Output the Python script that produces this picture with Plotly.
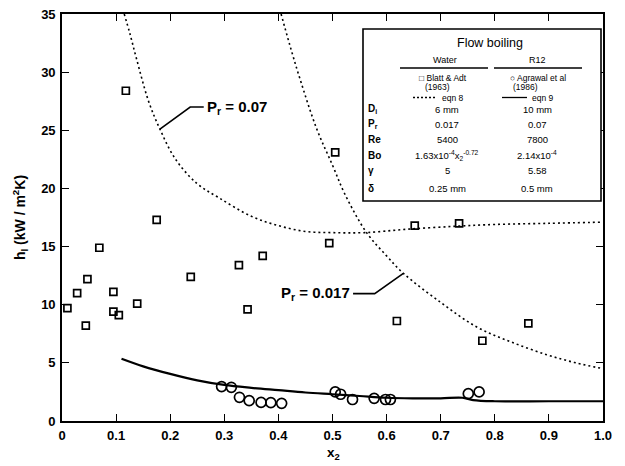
import plotly.graph_objects as go

# ---------------- data ----------------
water_x = [0.010, 0.028, 0.044, 0.047, 0.069, 0.095, 0.095, 0.105, 0.118, 0.139, 0.175,
           0.238, 0.327, 0.343, 0.371, 0.494, 0.505, 0.619, 0.652, 0.734, 0.777, 0.862]
water_y = [9.7, 11.0, 8.2, 12.2, 14.9, 11.1, 9.4, 9.1, 28.4, 10.1, 17.3,
           12.4, 13.4, 9.6, 14.2, 15.3, 23.1, 8.6, 16.8, 17.0, 6.9, 8.4]

r12_x = [0.295, 0.313, 0.328, 0.346, 0.368, 0.386, 0.406, 0.505, 0.515, 0.537,
         0.577, 0.598, 0.607, 0.751, 0.771]
r12_y = [2.96, 2.90, 2.04, 1.75, 1.60, 1.58, 1.52, 2.50, 2.30, 1.85,
         1.95, 1.85, 1.85, 2.35, 2.50]

eqn9_x = [0.11, 0.15, 0.20, 0.25, 0.30, 0.35, 0.40, 0.45, 0.50, 0.55, 0.60,
          0.65, 0.70, 0.74, 0.76, 0.80, 0.90, 1.00]
eqn9_y = [5.35, 4.70, 4.05, 3.50, 3.10, 2.85, 2.65, 2.45, 2.30, 2.15, 2.00,
          1.95, 1.95, 2.00, 1.80, 1.70, 1.70, 1.70]

pr07_x = [0.115, 0.125, 0.138, 0.160, 0.181, 0.210, 0.250, 0.290, 0.350, 0.400,
          0.450, 0.500, 0.560, 0.640, 0.730, 0.800, 0.900, 1.000]
pr07_y = [35.0, 33.4, 31.1, 27.5, 25.1, 22.5, 20.4, 19.2, 17.6, 16.8,
          16.3, 16.2, 16.2, 16.5, 16.75, 16.9, 17.0, 17.1]

pr017_x = [0.405, 0.420, 0.440, 0.471, 0.500, 0.523, 0.563, 0.600, 0.631, 0.700,
           0.766, 0.830, 0.896, 0.950, 1.000]
pr017_y = [35.0, 32.5, 29.4, 25.1, 22.0, 19.5, 16.2, 14.2, 12.7, 10.2,
           8.1, 6.8, 5.7, 5.0, 4.5]

x_ticks = [0, 0.1, 0.2, 0.3, 0.4, 0.5, 0.6, 0.7, 0.8, 0.9, 1.0]
x_ticklabels = ["0", "0.1", "0.2", "0.3", "0.4", "0.5", "0.6", "0.7", "0.8", "0.9", "1.0"]
y_ticks = [0, 5, 10, 15, 20, 25, 30, 35]
y_ticklabels = ["0", "5", "10", "15", "20", "25", "30", "35"]

legend_rows = ["D<sub>i</sub>", "P<sub>r</sub>", "Re", "Bo", "γ", "δ"]
legend_water = ["6 mm", "0.017", "5400", "1.63x10<sup>-4</sup>x<sub>2</sub><sup>-0.72</sup>", "5", "0.25 mm"]
legend_r12 = ["10 mm", "0.07", "7800", "2.14x10<sup>-4</sup>", "5.58", "0.5 mm"]

# ---------------- layout helpers ----------------
# the page body adds an 8px margin, so the figure is drawn 8px right/down
PAGE_OFF = 8
W, H = 625 - PAGE_OFF, 466 - PAGE_OFF
# plot area as seen in the 625x466 window
L, R, T, B = 62, 603, 14, 421
FONT = "Liberation Sans, Arial, sans-serif"


def px(xp, yp):
    return (xp - L) / (R - L), (B - yp) / (B - T)


fig = go.Figure()

dot = "2px,3px"
fig.add_trace(go.Scatter(x=pr07_x, y=pr07_y, mode="lines",
                         line=dict(color="black", width=1.6, dash=dot, shape="spline"),
                         showlegend=False, hoverinfo="skip"))
fig.add_trace(go.Scatter(x=pr017_x, y=pr017_y, mode="lines",
                         line=dict(color="black", width=1.6, dash=dot, shape="spline"),
                         showlegend=False, hoverinfo="skip"))
fig.add_trace(go.Scatter(x=eqn9_x, y=eqn9_y, mode="lines",
                         line=dict(color="black", width=2.2, shape="spline"),
                         showlegend=False, hoverinfo="skip"))
fig.add_trace(go.Scatter(x=water_x, y=water_y, mode="markers",
                         marker=dict(symbol="square-open", size=7, color="black", line=dict(width=1.7)),
                         showlegend=False))
fig.add_trace(go.Scatter(x=r12_x, y=r12_y, mode="markers",
                         marker=dict(symbol="circle-open", size=10, color="black", line=dict(width=1.7)),
                         showlegend=False))

shapes = []
annotations = []


def txt(text, xp, yp, size=9.0, xanchor="center", bold=False):
    x, y = px(xp, yp)
    annotations.append(dict(text=text, x=x, y=y, xref="paper", yref="paper", showarrow=False,
                            xanchor=xanchor, yanchor="middle",
                            font=dict(family=FONT, size=size, color="black",
                                      weight="bold" if bold else "normal")))


def seg(x0p, y0p, x1p, y1p, width=1.2, dash="solid"):
    x0, y0 = px(x0p, y0p)
    x1, y1 = px(x1p, y1p)
    shapes.append(dict(type="line", xref="paper", yref="paper", x0=x0, y0=y0, x1=x1, y1=y1,
                       line=dict(color="black", width=width, dash=dash)))


# leader lines for the curve labels (data coordinates)
shapes.append(dict(type="path", xref="x", yref="y", path="M 0.181 25.1 L 0.237 27.0 L 0.262 27.0",
                   line=dict(color="black", width=1.6)))
shapes.append(dict(type="path", xref="x", yref="y", path="M 0.631 12.7 L 0.578 10.95 L 0.538 10.95",
                   line=dict(color="black", width=1.6)))
annotations.append(dict(text="P<sub>r</sub> = 0.07", x=0.265, y=27.0, xref="x", yref="y", showarrow=False,
                        xanchor="left", yanchor="middle",
                        font=dict(family=FONT, size=15, color="black", weight="bold")))
annotations.append(dict(text="P<sub>r</sub> = 0.017", x=0.536, y=10.95, xref="x", yref="y", showarrow=False,
                        xanchor="right", yanchor="middle",
                        font=dict(family=FONT, size=15, color="black", weight="bold")))

# x-axis title placed explicitly just under the tick labels
txt("x<sub>2</sub>", 333, 453, size=13.5, bold=True)

# legend box
bx0, by0 = px(363, 201)
bx1, by1 = px(601, 29)
shapes.append(dict(type="rect", xref="paper", yref="paper", x0=bx0, y0=by0, x1=bx1, y1=by1,
                   fillcolor="white", line=dict(color="black", width=1.6), layer="above"))

txt("Flow boiling", 490, 43, size=12.5)
txt("Water", 445, 60, size=9)
txt("R12", 537, 60, size=9)
seg(400, 68, 488, 68, width=1.3)
seg(494, 68, 582, 68, width=1.3)
txt("□ Blatt & Adt", 443, 77.5, size=8.5)
txt("(1963)", 423, 87, size=8.5, xanchor="left")
txt("○ Agrawal et al", 538, 77.5, size=8.5)
txt("(1986)", 511, 87, size=8.5, xanchor="left")
seg(413, 97.5, 437, 97.5, width=1.3, dash="2px,2px")
txt("eqn 8", 440, 97.5, size=8.5, xanchor="left")
seg(502, 97.5, 527, 97.5, width=1.3)
txt("eqn 9", 530, 97.5, size=8.5, xanchor="left")

row_y = [109, 124, 139.5, 155, 170.5, 188]
for lab, wv, rv, yy in zip(legend_rows, legend_water, legend_r12, row_y):
    txt(lab, 366, yy, size=10, xanchor="left", bold=True)
    txt(wv, 447, yy, size=9.5)
    txt(rv, 537, yy, size=9.5)

axis_common = dict(showline=True, linecolor="black", linewidth=1.6, mirror="ticks",
                   ticks="inside", ticklen=7, tickwidth=1.4, tickcolor="black",
                   showgrid=False, zeroline=False, automargin=False,
                   ticklabeloverflow="allow",
                   tickfont=dict(family=FONT, size=13, color="black", weight="bold"))

fig.update_layout(
    width=W, height=H,
    margin=dict(l=L - PAGE_OFF, r=(W + PAGE_OFF) - R, t=T - PAGE_OFF, b=(H + PAGE_OFF) - B),
    paper_bgcolor="white", plot_bgcolor="white",
    xaxis=dict(range=[0, 1.0], tickvals=x_ticks, ticktext=x_ticklabels, ticklabelstandoff=2,
               **axis_common),
    yaxis=dict(range=[0, 35], tickvals=y_ticks, ticktext=y_ticklabels, ticklabelstandoff=2,
               title=dict(text="h<sub>l</sub> (kW / m<sup>2</sup>K)", standoff=12,
                          font=dict(family=FONT, size=14, color="black", weight="bold")),
               **axis_common),
    shapes=shapes,
    annotations=annotations,
    showlegend=False,
)

fig.write_html("out.html")
